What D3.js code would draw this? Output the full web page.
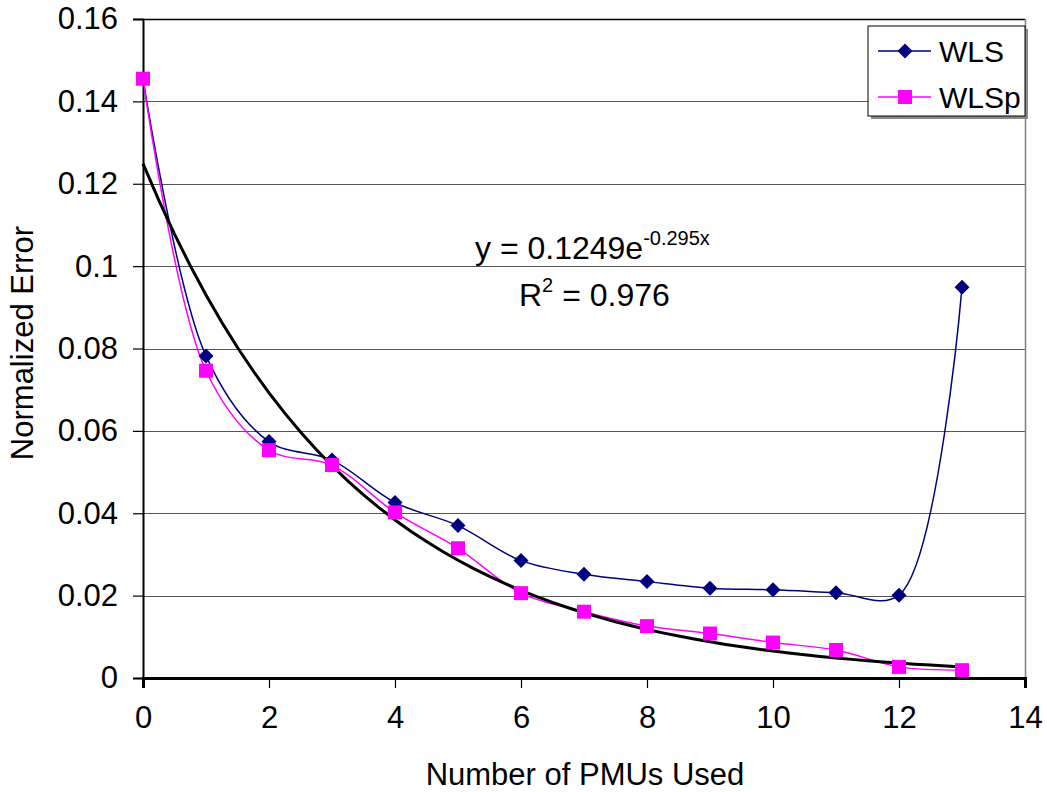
<!DOCTYPE html>
<html><head><meta charset="utf-8">
<script src="https://cdn.jsdelivr.net/npm/d3@7"></script>
<style>body{margin:0;background:#fff;} text{font-family:"Liberation Sans",Arial,sans-serif;}</style>
</head><body>
<svg id="c" width="1047" height="792"></svg>
<script>
const xVals = [0,1,2,3,4,5,6,7,8,9,10,11,12,13];
const wls  = [0.1455,0.0782,0.0574,0.0529,0.0426,0.0370,0.0285,0.0252,0.0234,0.0218,0.0214,0.0207,0.0201,0.0949];
const wlsp = [0.1455,0.0746,0.0553,0.0517,0.0402,0.0315,0.0206,0.0161,0.0126,0.0108,0.0086,0.0068,0.0027,0.0019];
const xTicks = [0,2,4,6,8,10,12,14];
const yTicks = [0,0.02,0.04,0.06,0.08,0.1,0.12,0.14,0.16];
const yTickLabels = ["0","0.02","0.04","0.06","0.08","0.1","0.12","0.14","0.16"];
const fitA = 0.1249, fitB = -0.295;
const seriesNames = ["WLS","WLSp"];

const svg = d3.select("#c");
const L=143, R=1025, T=19, B=678;
const FS = 31;
const x = d3.scaleLinear().domain([0,14]).range([L,R]);
const y = d3.scaleLinear().domain([0,0.16]).range([B,T]);

// gridlines
svg.append("g").selectAll("line").data(yTicks.slice(1)).join("line")
  .attr("x1",L).attr("x2",R).attr("y1",d=>Math.round(y(d))+0.5).attr("y2",d=>Math.round(y(d))+0.5)
  .attr("stroke",d=>d===0.16?"#000":"#555").attr("stroke-width",d=>d===0.16?1.5:1.2);
// right border
svg.append("line").attr("x1",R+0.5).attr("x2",R+0.5).attr("y1",T).attr("y2",B).attr("stroke","#808080").attr("stroke-width",1.5);

// y axis
const yAxis = d3.axisLeft(y).tickValues(yTicks).tickFormat((d,i)=>yTickLabels[i]).tickSize(10).tickPadding(15);
const gy = svg.append("g").attr("transform",`translate(${L},0)`).call(yAxis);
gy.select(".domain").attr("stroke","#000").attr("stroke-width",2);
gy.selectAll(".tick line").attr("stroke","#000").attr("stroke-width",1.2);
gy.selectAll("text").attr("font-size",FS).attr("fill","#000").attr("font-family","Liberation Sans, Arial, sans-serif");

// x axis
const xAxis = d3.axisBottom(x).tickValues(xTicks).tickSize(10).tickPadding(18);
const gx = svg.append("g").attr("transform",`translate(0,${B})`).call(xAxis);
gx.select(".domain").attr("stroke","#000").attr("stroke-width",3);
gx.selectAll(".tick line").attr("stroke","#000").attr("stroke-width",1.2);
gx.selectAll("text").attr("font-size",FS).attr("fill","#000").attr("font-family","Liberation Sans, Arial, sans-serif");

// axis titles
svg.append("text").attr("x",585).attr("y",785).attr("text-anchor","middle").attr("font-size",FS).text("Number of PMUs Used");
svg.append("text").attr("transform","translate(33,343) rotate(-90)").attr("text-anchor","middle").attr("font-size",FS).text("Normalized Error");

const curve = d3.curveCatmullRom.alpha(0.5);
const lineGen = arr => d3.line().x((d,i)=>x(xVals[i])).y(d=>y(d)).curve(curve)(arr);

// WLS
svg.append("path").attr("d",lineGen(wls)).attr("fill","none").attr("stroke","#000080").attr("stroke-width",1.5);
// WLSp
svg.append("path").attr("d",lineGen(wlsp)).attr("fill","none").attr("stroke","#ff00ff").attr("stroke-width",1.5);

// trendline
const fitX = d3.range(0,13.001,0.25);
svg.append("path").attr("d",d3.line().x(d=>x(d)).y(d=>y(fitA*Math.exp(fitB*d)))(fitX))
  .attr("fill","none").attr("stroke","#000").attr("stroke-width",3);

// markers
const diamond = "M0,-7.5L7.5,0L0,7.5L-7.5,0Z";
svg.append("g").selectAll("path").data(wls).join("path")
  .attr("transform",(d,i)=>`translate(${x(xVals[i])},${y(d)})`).attr("d",diamond).attr("fill","#000080");
svg.append("g").selectAll("rect").data(wlsp).join("rect")
  .attr("x",(d,i)=>x(xVals[i])-7).attr("y",d=>y(d)-7).attr("width",14).attr("height",14).attr("fill","#ff00ff");

// annotation
const eq = svg.append("text").attr("x",475).attr("y",259).attr("font-size",32);
eq.append("tspan").text("y = 0.1249e");
eq.append("tspan").attr("dy",-14).attr("font-size",20).text("-0.295x");
const r2 = svg.append("text").attr("x",519).attr("y",306).attr("font-size",32);
r2.append("tspan").text("R");
r2.append("tspan").attr("dy",-14).attr("font-size",20).text("2");
r2.append("tspan").attr("dy",14).text(" = 0.976");

// legend
const lg = svg.append("g");
lg.append("rect").attr("x",871).attr("y",29).attr("width",157).attr("height",90).attr("fill","#888");
lg.append("rect").attr("x",868).attr("y",26).attr("width",157).attr("height",90).attr("fill","#fff").attr("stroke","#000").attr("stroke-width",1);
const legColors=["#000080","#ff00ff"];
seriesNames.forEach((n,i)=>{
  const cy = 51 + i*46;
  lg.append("line").attr("x1",878).attr("x2",931).attr("y1",cy).attr("y2",cy).attr("stroke",legColors[i]).attr("stroke-width",1.5);
  if(i===0) lg.append("path").attr("transform",`translate(905,${cy})`).attr("d",diamond).attr("fill",legColors[i]);
  else lg.append("rect").attr("x",898).attr("y",cy-7).attr("width",14).attr("height",14).attr("fill",legColors[i]);
  lg.append("text").attr("x",939).attr("y",cy+11).attr("font-size",30).text(n);
});
</script>
</body></html>
